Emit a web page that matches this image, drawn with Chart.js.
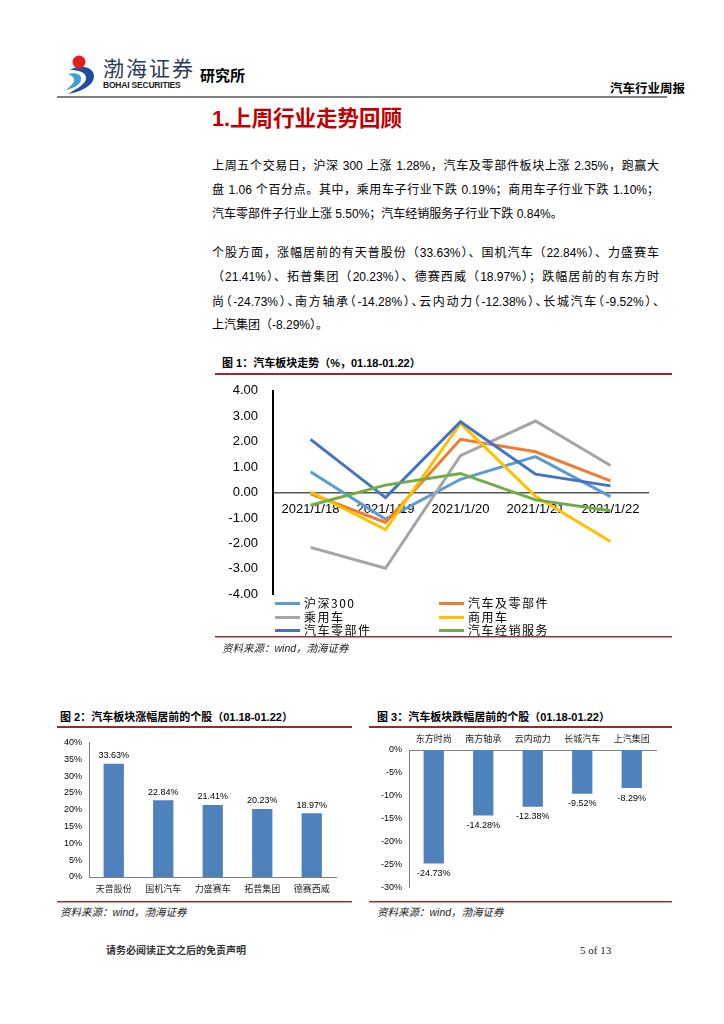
<!DOCTYPE html>
<html>
<head>
<meta charset="utf-8">
<script src="https://cdn.jsdelivr.net/npm/chart.js@4.4.0/dist/chart.umd.min.js"></script>
<style>
  body { margin: 0; width: 724px; height: 1024px; background: #fff; position: relative; overflow: hidden;
         font-family: "Liberation Sans", "Noto Sans CJK SC", sans-serif; color: #000; }
  .abs { position: absolute; white-space: nowrap; }
  .txt { font-size: 12px; line-height: 16px; width: 447px; left: 212px; }
  .just { white-space: normal; text-align: justify; text-align-last: justify; }
  .tight { font-feature-settings: "halt"; }
  .figtitle { font-size: 11px; font-weight: bold; line-height: 14px; }
  .redline { position: absolute; height: 0; border-top: 2px solid #A0272D; }
  .botline { position: absolute; height: 0; border-top: 1.5px solid #A0272D; box-shadow: 0 1px 1px #999; }
  .source { font-size: 10.5px; font-style: italic; color: #222; line-height: 14px; }
  .box { position: absolute; }
  .leg { position: absolute; font-family: "Noto Sans CJK SC", sans-serif; font-size: 12px; letter-spacing: 1.5px; line-height: 14px; }
  .leg i { display: inline-block; width: 25px; height: 3px; vertical-align: middle; margin-right: 4px; position: relative; top: -1px; }
</style>
</head>
<body>

<!-- header -->
<svg class="abs" style="left:64px;top:50px" width="36" height="46" viewBox="0 0 36 46">
  <path d="M6 20 C14 14 30 16 30 26 C30 36 16 42 4 44 C14 38 22 34 22 28 C22 22 14 20 6 20 Z" fill="#1F4E9C"/>
  <path d="M4 24 C12 22 18 24 17 30 C16 35 10 38 2 40 C8 35 11 32 10 29 C9 26 6 25 4 24 Z" fill="#3AA0DA"/>
  <circle cx="15" cy="12" r="6.5" fill="#E0201E"/>
</svg>
<div class="abs" style="left:103px;top:54px;font-family:'Noto Sans CJK SC';font-size:21px;letter-spacing:2px;color:#2E3A55;line-height:26px">渤海证券</div>
<div class="abs" style="left:103px;top:80px;font-size:8.5px;font-weight:bold;color:#222;letter-spacing:-0.2px">BOHAI SECURITIES</div>
<div class="abs" style="left:200px;top:65px;font-family:'Noto Sans CJK SC';font-size:15px;font-weight:bold;line-height:20px">研究所</div>
<div class="abs" style="left:610px;top:80px;font-family:'Noto Sans CJK SC';font-size:12.5px;font-weight:bold;line-height:16px">汽车行业周报</div>
<div class="abs" style="left:57px;top:96px;width:610px;height:2px;background:#808080"></div>

<!-- heading -->
<div class="abs" style="left:212px;top:106px;font-size:21.5px;font-weight:bold;color:#C00000;line-height:27px">1.上周行业走势回顾</div>

<!-- paragraph 1 -->
<div class="abs txt just" style="top:158px">上周五个交易日，沪深 300 上涨 1.28%，汽车及零部件板块上涨 2.35%，跑赢大</div>
<div class="abs txt just" style="top:182px">盘 1.06 个百分点。其中，乘用车子行业下跌 0.19%；商用车子行业下跌 1.10%；</div>
<div class="abs txt" style="top:206px">汽车零部件子行业上涨 5.50%；汽车经销服务子行业下跌 0.84%。</div>

<!-- paragraph 2 -->
<div class="abs txt just" style="top:245px">个股方面，涨幅居前的有天普股份（33.63%）、国机汽车（22.84%）、力盛赛车</div>
<div class="abs txt just" style="top:269px">（21.41%）、拓普集团（20.23%）、德赛西威（18.97%）；跌幅居前的有东方时</div>
<div class="abs txt just tight" style="top:294px">尚（-24.73%）、南方轴承（-14.28%）、云内动力（-12.38%）、长城汽车（-9.52%）、</div>
<div class="abs txt" style="top:317px">上汽集团（-8.29%）。</div>

<!-- figure 1 -->
<div class="abs figtitle" style="left:222px;top:356px">图 1：汽车板块走势（%，01.18-01.22）</div>
<div class="redline" style="left:215px;top:373px;width:457px"></div>
<div class="box" style="left:220px;top:368px;width:440px;height:249px"><canvas id="lineChart"></canvas></div>
<div id="legend"></div>
<div class="botline" style="left:215px;top:636px;width:457px"></div>
<div class="abs source" style="left:222px;top:641px">资料来源：wind，渤海证券</div>

<!-- figure 2 -->
<div class="abs figtitle" style="left:60px;top:710px">图 2：汽车板块涨幅居前的个股（01.18-01.22）</div>
<div class="redline" style="left:57px;top:726px;width:295px"></div>
<div class="box" style="left:57px;top:730px;width:295px;height:170px"><canvas id="upChart"></canvas></div>
<div class="botline" style="left:57px;top:901px;width:295px"></div>
<div class="abs source" style="left:60px;top:905px">资料来源：wind，渤海证券</div>

<!-- figure 3 -->
<div class="abs figtitle" style="left:377px;top:710px">图 3：汽车板块跌幅居前的个股（01.18-01.22）</div>
<div class="redline" style="left:369px;top:726px;width:303px"></div>
<div class="box" style="left:369px;top:730px;width:303px;height:170px"><canvas id="downChart"></canvas></div>
<div class="botline" style="left:369px;top:901px;width:303px"></div>
<div class="abs source" style="left:377px;top:905px">资料来源：wind，渤海证券</div>

<!-- footer -->
<div class="abs" style="left:106px;top:943px;font-family:'Noto Sans CJK SC';font-size:10px;font-weight:bold;color:#333;line-height:14px">请务必阅读正文之后的免责声明</div>
<div class="abs" style="left:580px;top:943px;font-family:'Liberation Serif';font-size:11px;color:#222;line-height:14px">5 of 13</div>

<script>
// 图1 数据
const days = ['2021/1/18', '2021/1/19', '2021/1/20', '2021/1/21', '2021/1/22'];
const hs300 = [0.82, -1.05, 0.52, 1.41, -0.16];
const autoAll = [-0.05, -1.18, 2.09, 1.60, 0.46];
const passenger = [-2.16, -2.98, 1.45, 2.81, 1.06];
const commercial = [0.03, -1.46, 2.72, -0.15, -1.93];
const autoParts = [2.09, -0.20, 2.78, 0.72, 0.26];
const dealers = [-0.50, 0.29, 0.75, -0.29, -0.72];
const seriesNames = ['沪深300', '汽车及零部件', '乘用车', '商用车', '汽车零部件', '汽车经销服务'];
const seriesColors = ['#5B9BD5', '#ED7D31', '#A5A5A5', '#FFC000', '#4472C4', '#70AD47'];
const lineTicks = [-4, -3, -2, -1, 0, 1, 2, 3, 4];

// 图2 / 图3 数据
const upStocks = ['天普股份', '国机汽车', '力盛赛车', '拓普集团', '德赛西威'];
const upValues = [33.63, 22.84, 21.41, 20.23, 18.97];
const downStocks = ['东方时尚', '南方轴承', '云内动力', '长城汽车', '上汽集团'];
const downValues = [-24.73, -14.28, -12.38, -9.52, -8.29];

const lineSeries = [hs300, autoAll, passenger, commercial, autoParts, dealers];

// 图例（两列）
const legendBox = document.getElementById('legend');
seriesNames.forEach((name, i) => {
    const el = document.createElement('div');
    el.className = 'leg';
    el.style.left = (i % 2 === 0 ? 275 : 439) + 'px';
    el.style.top = (596 + Math.floor(i / 2) * 13.5) + 'px';
    el.innerHTML = `<i style="background:${seriesColors[i]}"></i>${name}`;
    legendBox.appendChild(el);
});

new Chart(document.getElementById('lineChart').getContext('2d'), {
    type: 'line',
    data: {
        labels: days,
        datasets: lineSeries.map((data, i) => ({
            label: seriesNames[i],
            data: data,
            borderColor: seriesColors[i],
            backgroundColor: seriesColors[i],
            borderWidth: 3,
            pointRadius: 0,
            tension: 0,
            order: lineSeries.length - i
        }))
    },
    options: {
        responsive: true,
        maintainAspectRatio: false,
        animation: false,
        layout: { padding: { top: 9, bottom: 7, right: 12, left: 0 } },
        plugins: { legend: { display: false }, tooltip: { enabled: false } },
        scales: {
            x: {
                position: { y: 0 },
                offset: true,
                grid: { display: false },
                border: { display: true, color: '#555', width: 1.5 },
                ticks: {
                    color: '#000',
                    padding: 1,
                    maxRotation: 0,
                    font: { family: 'Liberation Sans', size: 13 }
                }
            },
            y: {
                min: -4,
                max: 4,
                afterBuildTicks: scale => { scale.ticks = lineTicks.map(v => ({ value: v })); },
                afterFit: scale => { scale.width = 53; },
                grid: { display: false, drawTicks: false },
                border: { display: true, color: '#000', width: 2 },
                ticks: {
                    color: '#000',
                    padding: 15,
                    font: { family: 'Liberation Sans', size: 13 },
                    callback: value => value.toFixed(2)
                }
            }
        }
    }
});

// 柱形图数值标签
const barLabels = {
    id: 'barLabels',
    afterDatasetsDraw(chart) {
        const ctx = chart.ctx;
        const meta = chart.getDatasetMeta(0);
        const values = chart.data.datasets[0].data;
        ctx.save();
        ctx.font = '9px "Liberation Sans"';
        ctx.fillStyle = '#000';
        ctx.textAlign = 'center';
        ctx.textBaseline = 'middle';
        meta.data.forEach((bar, i) => {
            const v = values[i];
            const y = v >= 0 ? bar.y - 8 : bar.y + 10;
            ctx.fillText(v.toFixed(2) + '%', bar.x, y);
        });
        ctx.restore();
    }
};

function createBarChart(id, labels, values, opts) {
    return new Chart(document.getElementById(id).getContext('2d'), {
        type: 'bar',
        data: {
            labels: labels,
            datasets: [{
                data: values,
                backgroundColor: '#4F81BD',
                barPercentage: 0.41,
                categoryPercentage: 1
            }]
        },
        options: {
            responsive: true,
            maintainAspectRatio: false,
            animation: false,
            layout: { padding: opts.padding },
            plugins: { legend: { display: false }, tooltip: { enabled: false } },
            scales: {
                x: {
                    position: opts.xPosition,
                    afterFit: scale => { scale.height = opts.xHeight; },
                    grid: { display: false, drawTicks: false },
                    border: { display: true, color: '#7F7F7F', width: 1 },
                    ticks: {
                        color: '#222',
                        padding: 6,
                        maxRotation: 0,
                        font: { family: 'Noto Sans CJK SC', size: 9 }
                    }
                },
                y: {
                    min: opts.min,
                    max: opts.max,
                    afterFit: scale => { scale.width = opts.yWidth; },
                    grid: { display: false, drawTicks: false },
                    border: { display: true, color: '#7F7F7F', width: 1 },
                    ticks: {
                        stepSize: 5,
                        color: '#000',
                        padding: 7,
                        font: { family: 'Liberation Sans', size: 9 },
                        callback: value => value + '%'
                    }
                }
            }
        },
        plugins: [barLabels]
    });
}

createBarChart('upChart', upStocks, upValues, {
    min: 0, max: 40, xPosition: 'bottom', xHeight: 23, yWidth: 32,
    padding: { top: 7, right: 15.5, bottom: 0, left: 0 }
});

createBarChart('downChart', downStocks, downValues, {
    min: -30, max: 0, xPosition: 'top', xHeight: 20, yWidth: 40,
    padding: { top: 0, right: 15.5, bottom: 8, left: 0 }
});
</script>
</body>
</html>
